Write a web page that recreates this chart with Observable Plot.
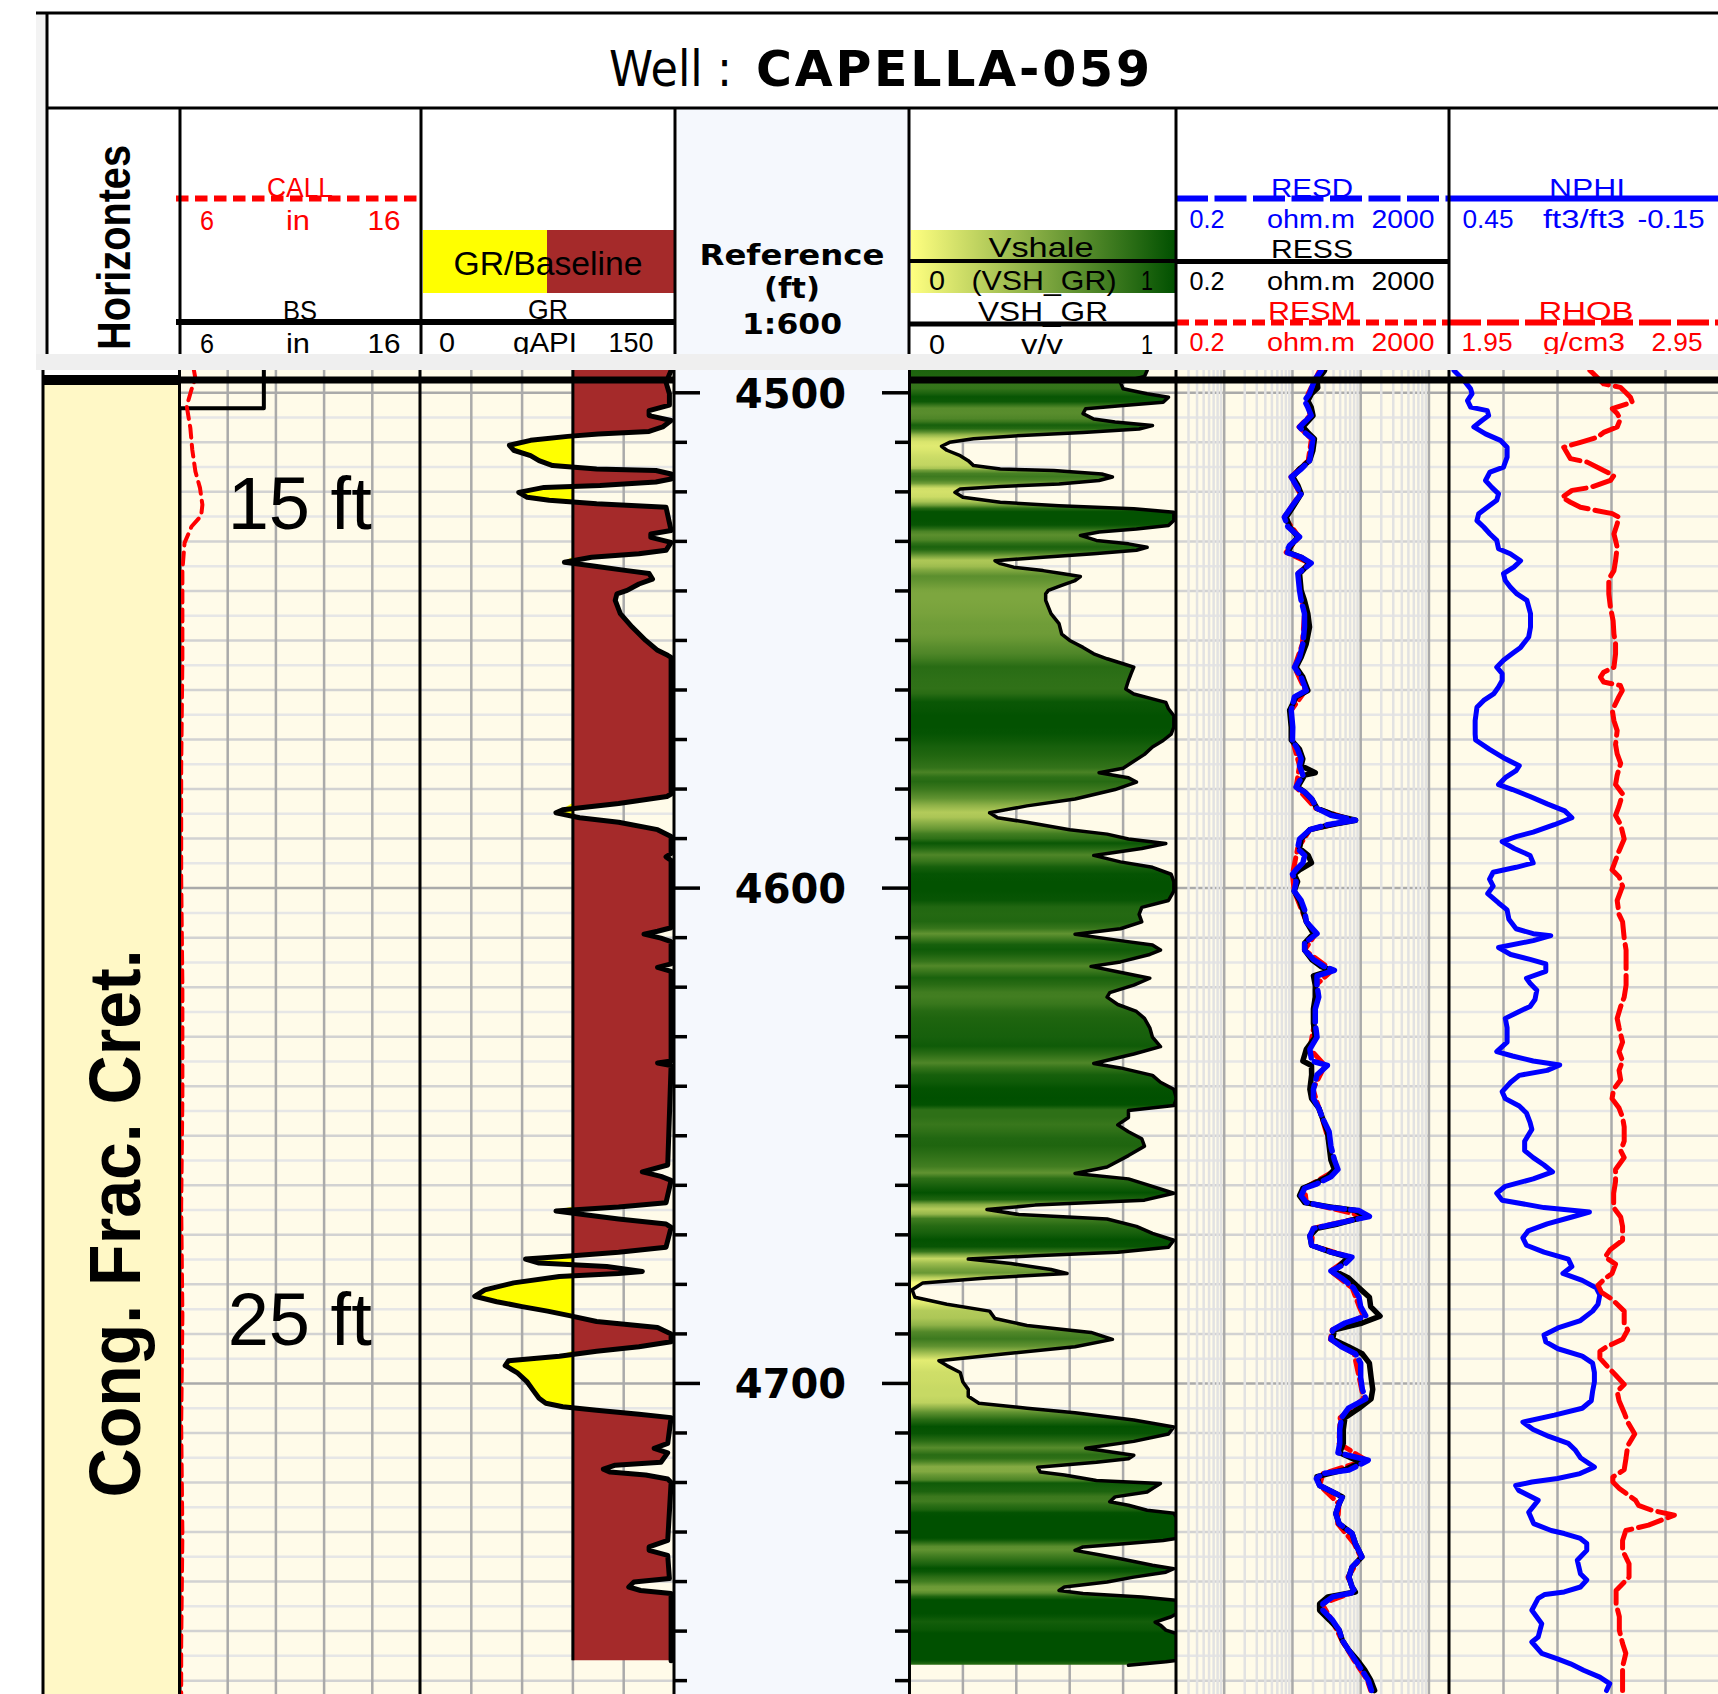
<!DOCTYPE html>
<html>
<head>
<meta charset="utf-8">
<script src="https://cdn.jsdelivr.net/npm/d3@7"></script>
<script src="https://cdn.jsdelivr.net/npm/@observablehq/plot@0.6"></script>
<style>
html, body { margin:0; padding:0; background:#fff; overflow:hidden; }
#root { position:relative; width:1718px; height:1694px; overflow:hidden; background:#fff; }
</style>
</head>
<body>
<div id="root"></div>
<script>
// ---------------- DATA ----------------
const WELL = "CAPELLA-059";
const DEPTH_TOP = 4495.5, DEPTH_BOTTOM = 4762.8;
const DEPTH_LABELS = [4500, 4600, 4700];
const FORMATIONS = [{name: "Cong. Frac. Cret.", top: 4497.4, base: 4838}];
const CALL_NOTES = [{depth: 4527.4, label: "15 ft"}, {depth: 4692.2, label: "25 ft"}];
const GR_BASELINE = 90;

const CALL = [[4495.5,6.60],[4497.1,6.66],[4499.3,6.50],[4502.7,6.30],[4507.1,6.45],[4511.5,6.53],[4515.9,6.66],[4519.2,6.85],[4522.6,6.95],[4524.8,6.90],[4527.0,6.50],[4530.3,6.21],[4535.8,6.12],[4553.5,6.12],[4575.7,6.07],[4597.8,6.07],[4619.9,6.12],[4642.0,6.12],[4664.2,6.07],[4686.3,6.12],[4708.4,6.07],[4730.5,6.12],[4752.7,6.07],[4762.8,6.07]];
const BS = [[4495.5,9.5],[4503.1,9.5],[4503.1,6.0],[4762.8,6.0]];

const GR = [[4495.5,148],[4497.9,145],[4500.2,147],[4502.5,147],[4503.6,135],[4504.6,135],[4505.6,148],[4506.9,143],[4507.8,135],[4508.3,105],[4508.8,87],[4509.6,65],[4510.6,52.5],[4511.6,55],[4512.7,65],[4513.7,70],[4514.7,78],[4515.4,104],[4515.7,139],[4516.4,148],[4517.4,148],[4518.0,139],[4518.7,106],[4519.1,73],[4520.1,58],[4521.1,63],[4521.7,76],[4522.4,104],[4523.1,145],[4527.8,148],[4528.5,136],[4529.2,136],[4530.2,148],[4531.8,145],[4532.5,129],[4533.2,101],[4534.2,85],[4534.9,101],[4535.9,122],[4536.5,135],[4537.6,137],[4538.6,129],[4539.9,122],[4540.6,116],[4541.9,115],[4544.6,118],[4547.3,125],[4550.0,133],[4552.0,140],[4553.0,146],[4553.4,148],[4581.0,148],[4581.5,145.5],[4582.9,117],[4584.2,84],[4584.8,80],[4585.8,94],[4586.7,117],[4588.2,140],[4589.6,148],[4593.0,148],[4593.7,145],[4594.4,148],[4608.0,148],[4608.7,140],[4609.3,132],[4610.1,142],[4610.8,148],[4615.3,148],[4616.0,140],[4616.8,148],[4634.9,148],[4635.3,140],[4635.8,148],[4655.9,146],[4657.3,131],[4658.2,142],[4659.0,148],[4663.5,145],[4664.4,117],[4665.2,80],[4665.9,96],[4666.8,117],[4667.8,145],[4668.5,148],[4672.5,145],[4673.5,117],[4674.2,90],[4674.9,62],[4675.7,70],[4676.4,110],[4677.4,131],[4677.8,117],[4678.4,82],[4679.7,55],[4681.1,38],[4682.4,32],[4683.5,45],[4684.5,60],[4685.4,75],[4686.3,88],[4687.5,104],[4688.7,140],[4690.0,148],[4691.6,148],[4692.6,129],[4693.5,104],[4694.5,82],[4695.4,52],[4696.4,50],[4697.8,57],[4699.7,63],[4701.6,67],[4703.0,70],[4704.0,74],[4704.7,84],[4705.4,104],[4706.2,129],[4706.9,148],[4712.1,146],[4713.1,138],[4714.0,146],[4715.9,142],[4716.5,115],[4717.3,108],[4717.9,112],[4718.5,133],[4719.3,146],[4720.0,148],[4731.7,146],[4733.0,135],[4733.7,135],[4734.7,146],[4739.4,147],[4740.1,126],[4741.1,123],[4741.8,130],[4742.4,148],[4756.0,148]];

const VSH = [[4495.5,0.89],[4496.7,0.88],[4497.9,0.79],[4499.2,0.80],[4500.2,0.89],[4500.9,0.97],[4501.9,0.95],[4502.6,0.79],[4503.2,0.66],[4504.2,0.65],[4505.3,0.69],[4505.9,0.77],[4506.6,0.91],[4507.3,0.86],[4508.0,0.65],[4508.6,0.42],[4509.3,0.24],[4510.0,0.15],[4510.8,0.12],[4511.6,0.14],[4512.7,0.19],[4513.7,0.22],[4514.7,0.24],[4515.4,0.34],[4515.7,0.54],[4516.4,0.72],[4517.0,0.76],[4517.7,0.71],[4518.4,0.56],[4518.9,0.34],[4519.4,0.19],[4520.1,0.17],[4521.1,0.20],[4522.1,0.34],[4522.8,0.56],[4523.4,0.84],[4524.1,0.99],[4525.8,0.99],[4526.8,0.97],[4527.5,0.85],[4528.1,0.71],[4528.8,0.64],[4529.8,0.70],[4530.5,0.82],[4531.2,0.89],[4531.8,0.85],[4532.5,0.69],[4533.2,0.50],[4533.9,0.32],[4534.5,0.34],[4535.2,0.39],[4535.9,0.50],[4536.5,0.57],[4537.1,0.64],[4537.9,0.62],[4538.9,0.57],[4539.9,0.52],[4540.6,0.51],[4541.9,0.51],[4544.6,0.53],[4546.6,0.56],[4548.7,0.57],[4550.0,0.60],[4551.4,0.65],[4552.7,0.69],[4553.7,0.74],[4554.7,0.80],[4555.4,0.84],[4556.7,0.83],[4558.1,0.82],[4559.8,0.81],[4560.8,0.84],[4561.8,0.91],[4562.5,0.96],[4563.8,0.97],[4565.2,0.99],[4567.5,0.99],[4568.9,0.98],[4570.2,0.95],[4571.5,0.91],[4573.0,0.88],[4574.4,0.84],[4575.8,0.80],[4576.7,0.71],[4577.7,0.82],[4578.6,0.85],[4580.1,0.77],[4582.0,0.62],[4583.4,0.44],[4584.8,0.30],[4585.8,0.33],[4586.7,0.44],[4588.2,0.60],[4589.1,0.74],[4590.1,0.82],[4591.0,0.96],[4592.0,0.87],[4593.4,0.69],[4594.7,0.79],[4595.8,0.91],[4597.2,0.98],[4598.7,0.99],[4600.6,0.99],[4602.5,0.97],[4603.9,0.87],[4605.3,0.86],[4606.8,0.87],[4608.2,0.79],[4609.3,0.62],[4610.6,0.79],[4611.5,0.91],[4612.5,0.94],[4613.4,0.90],[4614.9,0.79],[4615.8,0.68],[4616.8,0.77],[4618.2,0.90],[4619.6,0.84],[4621.1,0.75],[4622.0,0.74],[4623.5,0.78],[4624.9,0.85],[4626.3,0.88],[4628.2,0.90],[4630.1,0.91],[4632.0,0.94],[4633.5,0.84],[4635.4,0.69],[4636.3,0.79],[4637.8,0.91],[4639.2,0.94],[4640.6,0.99],[4642.5,1.0],[4643.9,0.99],[4644.9,0.82],[4646.3,0.82],[4647.8,0.78],[4649.2,0.82],[4650.6,0.87],[4652.1,0.88],[4654.0,0.82],[4656.3,0.74],[4657.6,0.62],[4658.7,0.82],[4660.2,0.91],[4661.6,0.99],[4663.0,0.88],[4664.0,0.47],[4664.9,0.29],[4665.9,0.41],[4666.8,0.74],[4668.3,0.85],[4669.7,0.91],[4671.1,0.99],[4672.5,0.97],[4673.5,0.78],[4674.2,0.47],[4674.9,0.22],[4675.8,0.38],[4677.0,0.53],[4677.8,0.59],[4678.7,0.29],[4679.7,0.05],[4681.1,0.01],[4682.6,0.02],[4684.0,0.14],[4685.4,0.30],[4686.9,0.32],[4688.3,0.44],[4689.7,0.68],[4691.1,0.76],[4692.6,0.62],[4694.0,0.36],[4695.4,0.11],[4696.4,0.14],[4697.8,0.19],[4699.7,0.20],[4701.2,0.22],[4702.6,0.22],[4704.0,0.26],[4705.0,0.44],[4705.9,0.62],[4707.4,0.84],[4708.8,0.99],[4710.2,0.97],[4711.7,0.84],[4713.1,0.66],[4714.5,0.84],[4715.2,0.82],[4715.9,0.70],[4716.9,0.48],[4717.9,0.49],[4718.5,0.58],[4719.6,0.70],[4720.2,0.94],[4721.2,0.91],[4721.9,0.89],[4722.9,0.77],[4723.9,0.75],[4724.6,0.82],[4725.6,0.89],[4726.2,0.99],[4727.0,1.0],[4731.3,1.0],[4731.7,0.95],[4732.5,0.77],[4733.0,0.65],[4733.7,0.62],[4734.7,0.72],[4735.4,0.79],[4736.7,0.91],[4737.4,0.99],[4738.1,0.96],[4739.1,0.84],[4740.1,0.74],[4741.1,0.58],[4741.8,0.56],[4742.4,0.65],[4743.1,0.87],[4743.8,1.0],[4746.5,1.0],[4747.1,0.98],[4748.2,0.92],[4748.8,0.94],[4749.8,0.96],[4750.5,1.0],[4755.9,1.0],[4756.2,0.96],[4756.9,0.82]];

const RESD = [[4495.5,26.4],[4497.5,21.0],[4500.2,17.8],[4501.6,15.0],[4502.9,16.8],[4504.6,18.8],[4506.9,12.7],[4508.0,15.0],[4509.3,19.9],[4511.7,18.8],[4513.7,17.8],[4515.4,13.4],[4517.0,9.6],[4518.7,11.3],[4520.4,13.4],[4523.1,9.6],[4525.1,7.6],[4527.1,8.6],[4529.1,12.7],[4530.8,9.1],[4532.2,8.1],[4533.2,13.4],[4534.4,18.8],[4536.5,12.0],[4539.9,12.7],[4541.9,13.4],[4544.6,15.0],[4547.3,15.0],[4550.7,14.2],[4553.4,12.7],[4555.4,10.7],[4557.4,13.4],[4560.1,15.9],[4561.4,10.7],[4564.1,9.6],[4567.5,10.1],[4570.1,10.0],[4572.0,11.9],[4573.9,13.4],[4575.3,12.7],[4577.2,14.2],[4579.6,11.3],[4580.6,15.1],[4582.0,19.1],[4583.9,22.9],[4585.3,36.6],[4586.3,84],[4587.2,32.5],[4588.2,18.0],[4590.1,12.7],[4592.0,11.9],[4593.4,15.1],[4594.9,14.2],[4596.3,11.3],[4597.2,10.0],[4598.7,11.3],[4600.6,10.6],[4602.5,13.4],[4604.4,15.1],[4606.8,16.0],[4609.2,22.9],[4611.1,15.1],[4612.5,15.1],[4614.4,20.3],[4615.8,29.0],[4616.6,41.2],[4617.7,22.9],[4619.6,22.9],[4622.0,24.3],[4624.4,21.6],[4627.3,21.6],[4630.1,22.9],[4632.5,18.0],[4634.9,19.1],[4635.8,32.5],[4637.7,22.9],[4640.6,20.3],[4642.5,20.3],[4644.4,24.3],[4646.3,27.3],[4649.2,34.5],[4652.1,36.6],[4654.9,41.2],[4656.8,46.4],[4658.3,36.6],[4659.7,22.9],[4660.6,15.1],[4662.1,13.4],[4663.5,16.0],[4664.5,36.6],[4665.1,94.3],[4666.3,134],[4667.8,41.2],[4668.7,20.3],[4670.2,18.0],[4672.1,19.1],[4673.5,36.6],[4674.5,74.4],[4675.9,58.8],[4677.3,36.6],[4678.7,52.3],[4680.7,78.6],[4682.6,94.3],[4684.5,99.9],[4686.4,119],[4687.8,58.8],[4689.2,38.8],[4691.1,36.6],[4692.6,52.3],[4694.0,83.7],[4695.9,99.9],[4698.8,99.9],[4701.2,105.8],[4703.1,118.8],[4705.0,66.2],[4706.9,52.3],[4709.3,49.3],[4712.1,49.3],[4714.0,46.4],[4715.5,129],[4716.5,94],[4717.5,67.1],[4718.2,27.9],[4719.2,22.4],[4720.6,25.0],[4721.9,38.7],[4722.9,53.9],[4724.3,48.2],[4726.3,43.2],[4728.3,48.2],[4730.3,74.8],[4732.3,83.4],[4735.0,104],[4737.1,74.8],[4739.1,67.1],[4741.1,74.8],[4742.1,83.4],[4743.1,38.7],[4744.5,27.9],[4745.8,27.9],[4747.8,38.7],[4749.8,48.2],[4751.9,53.9],[4753.9,67.1],[4755.9,83.4],[4757.9,104],[4759.9,129],[4762.0,144]];

const RESS = [[4495.5,29.5],[4497.5,23.0],[4499.0,23.5],[4500.2,19.0],[4501.6,16.8],[4502.9,18.8],[4504.6,20.0],[4506.9,14.2],[4508.0,16.8],[4509.3,21.0],[4511.7,19.9],[4513.7,17.8],[4515.4,12.7],[4517.0,10.1],[4518.7,12.0],[4520.4,13.4],[4523.1,10.1],[4525.1,8.1],[4527.1,9.1],[4529.1,12.0],[4530.8,9.6],[4532.2,8.6],[4533.2,13.4],[4534.4,17.8],[4536.5,12.7],[4539.9,13.4],[4541.9,15.0],[4544.6,16.8],[4547.3,17.8],[4550.7,15.9],[4553.4,13.4],[4555.4,11.3],[4557.4,14.2],[4560.1,16.8],[4561.4,11.3],[4564.1,9.1],[4567.5,9.6],[4570.1,9.6],[4572.0,12.7],[4573.9,14.2],[4575.3,13.4],[4576.7,21.6],[4577.2,15.1],[4579.6,11.9],[4580.6,15.1],[4582.0,19.1],[4583.9,22.9],[4585.3,42],[4586.3,84],[4587.2,36.6],[4588.2,18.0],[4590.1,13.4],[4592.0,12.7],[4593.4,17.0],[4594.9,19.0],[4596.3,12.7],[4597.2,10.6],[4598.7,11.9],[4600.6,10.6],[4602.5,12.7],[4604.4,14.2],[4606.8,16.0],[4609.2,20.3],[4611.1,15.1],[4612.5,15.1],[4614.4,19.1],[4615.8,26.0],[4616.6,36.6],[4617.7,20.3],[4619.6,21.6],[4622.0,21.6],[4624.4,20.3],[4627.3,20.3],[4630.1,21.6],[4632.5,16.0],[4634.9,14.2],[4635.8,19.0],[4637.7,19.1],[4640.6,18.0],[4642.5,19.1],[4644.4,24.3],[4646.3,27.3],[4649.2,32.5],[4652.1,34.5],[4654.9,36.6],[4656.8,41.2],[4658.3,32.5],[4659.7,20.3],[4660.6,14.2],[4662.1,12.7],[4663.5,15.1],[4664.5,41.2],[4665.1,84],[4666.3,118],[4667.8,46.4],[4668.7,22.9],[4670.2,18.0],[4672.1,19.1],[4673.5,36.6],[4674.5,66],[4675.9,52.3],[4677.3,41.2],[4678.7,66.2],[4680.7,94.3],[4682.6,134],[4684.5,140],[4686.4,192],[4687.8,105],[4689.2,41.2],[4691.1,38.8],[4692.6,66.2],[4694.0,105],[4695.9,134],[4698.8,142],[4701.2,150],[4703.1,142],[4705.0,94.3],[4706.9,58.8],[4709.3,55.5],[4712.1,55.5],[4714.0,49.3],[4715.9,99.9],[4717.4,58.8],[4718.8,22.9],[4720.6,25.0],[4721.9,38.7],[4722.9,53.9],[4724.3,48.2],[4726.3,43.2],[4728.3,48.2],[4730.3,74.8],[4732.3,83.4],[4735.0,104],[4737.1,74.8],[4739.1,67.1],[4741.1,74.8],[4742.1,83.4],[4743.1,33.0],[4744.5,25.0],[4745.8,25.0],[4747.8,35.0],[4749.8,48.2],[4751.9,53.9],[4753.9,67.1],[4755.9,90],[4757.9,115],[4759.9,140],[4762.0,160]];

const RESM = [[4495.5,25],[4500.2,17],[4504.6,18],[4506.9,12.5],[4509.3,19],[4513.7,17],[4517.0,9.5],[4520.4,13],[4525.1,7.6],[4529.1,12.5],[4532.2,8.1],[4534.4,18],[4536.5,12],[4544.6,15],[4550.7,14],[4555.4,10.7],[4560.1,15.5],[4564.1,9.6],[4570.1,10],[4575.3,12.7],[4579.6,11.3],[4583.9,22],[4586.3,75],[4588.2,18],[4592.0,11.9],[4597.2,10],[4600.6,10.6],[4606.8,16],[4609.2,22],[4612.5,15],[4616.6,38],[4619.6,22],[4627.3,21],[4632.5,18],[4635.8,30],[4640.6,20],[4646.3,27],[4652.1,36],[4656.8,45],[4660.6,15],[4663.5,16],[4666.3,120],[4668.7,20],[4672.1,19],[4674.5,70],[4677.3,36],[4680.7,75],[4684.5,95],[4686.4,110],[4689.2,38],[4691.1,36],[4694.0,80],[4698.8,95],[4703.1,110],[4706.9,50],[4712.1,48],[4715.5,120],[4718.2,28],[4720.6,25],[4724.3,48],[4728.3,46],[4732.3,80],[4735.0,100],[4739.1,65],[4742.1,80],[4744.5,27],[4747.8,38],[4751.9,53],[4755.9,80],[4759.9,125],[4762.0,140]];

const NPHI = [[4495.5,0.440],[4497.5,0.418],[4499.2,0.403],[4500.2,0.400],[4501.6,0.410],[4502.9,0.403],[4503.6,0.366],[4504.6,0.363],[4505.6,0.378],[4506.9,0.396],[4508.3,0.370],[4509.6,0.337],[4511.0,0.322],[4513.0,0.322],[4515.0,0.330],[4516.0,0.360],[4517.7,0.370],[4519.1,0.356],[4520.4,0.341],[4521.7,0.345],[4523.1,0.366],[4524.4,0.385],[4525.8,0.389],[4527.1,0.374],[4528.5,0.360],[4529.8,0.345],[4531.5,0.341],[4532.5,0.315],[4533.9,0.292],[4535.2,0.307],[4536.5,0.330],[4537.9,0.326],[4539.2,0.315],[4540.6,0.300],[4541.9,0.278],[4544.6,0.270],[4547.3,0.270],[4549.3,0.274],[4551.4,0.292],[4552.7,0.311],[4554.0,0.330],[4555.4,0.345],[4556.7,0.333],[4558.1,0.333],[4559.4,0.341],[4560.8,0.352],[4562.1,0.374],[4563.5,0.389],[4566.2,0.393],[4568.9,0.393],[4570.1,0.392],[4572.0,0.361],[4573.9,0.326],[4575.3,0.295],[4576.3,0.302],[4577.7,0.326],[4579.1,0.341],[4580.1,0.310],[4581.5,0.271],[4583.0,0.233],[4584.4,0.194],[4585.8,0.178],[4587.2,0.217],[4588.7,0.264],[4589.6,0.302],[4590.6,0.333],[4592.0,0.306],[4593.4,0.271],[4594.9,0.264],[4595.8,0.302],[4596.8,0.353],[4598.2,0.361],[4599.6,0.353],[4601.1,0.365],[4603.0,0.341],[4604.4,0.322],[4606.3,0.318],[4608.2,0.302],[4609.2,0.264],[4609.6,0.225],[4610.6,0.264],[4612.0,0.341],[4613.4,0.314],[4614.4,0.271],[4615.3,0.236],[4616.8,0.236],[4618.2,0.279],[4619.2,0.271],[4620.6,0.256],[4622.5,0.260],[4623.9,0.271],[4624.9,0.295],[4626.3,0.326],[4628.2,0.322],[4631.1,0.322],[4633.0,0.345],[4633.9,0.310],[4634.9,0.264],[4635.7,0.205],[4636.8,0.233],[4637.8,0.295],[4639.2,0.314],[4641.1,0.333],[4642.5,0.326],[4644.0,0.295],[4645.4,0.279],[4647.3,0.271],[4648.7,0.267],[4651.1,0.283],[4653.0,0.283],[4654.4,0.264],[4655.9,0.240],[4657.3,0.221],[4658.7,0.264],[4660.2,0.326],[4661.6,0.345],[4663.0,0.333],[4664.5,0.240],[4665.4,0.139],[4666.4,0.178],[4667.8,0.233],[4669.2,0.275],[4670.6,0.287],[4672.1,0.279],[4673.5,0.240],[4674.9,0.186],[4676.4,0.178],[4677.8,0.198],[4679.2,0.155],[4680.7,0.124],[4682.1,0.116],[4684.0,0.120],[4685.4,0.132],[4687.3,0.159],[4688.8,0.209],[4690.2,0.240],[4691.6,0.236],[4693.0,0.209],[4694.5,0.155],[4695.9,0.132],[4697.8,0.128],[4699.7,0.128],[4701.6,0.132],[4703.5,0.135],[4705.0,0.155],[4706.4,0.217],[4707.8,0.287],[4709.3,0.264],[4710.7,0.229],[4712.1,0.186],[4713.5,0.170],[4715.0,0.159],[4716.9,0.128],[4718.2,0.160],[4719.2,0.210],[4719.9,0.267],[4720.6,0.303],[4721.6,0.296],[4723.6,0.253],[4726.0,0.274],[4728.3,0.263],[4729.7,0.224],[4730.3,0.195],[4731.3,0.159],[4732.3,0.145],[4733.7,0.145],[4735.7,0.166],[4738.4,0.159],[4739.7,0.145],[4741.1,0.159],[4742.1,0.195],[4742.6,0.238],[4743.4,0.253],[4745.8,0.267],[4748.5,0.245],[4751.2,0.253],[4752.2,0.267],[4754.5,0.245],[4755.6,0.210],[4756.6,0.181],[4757.9,0.152],[4759.3,0.116],[4760.6,0.094],[4762.0,0.101]];

const RHOB = [[4495.5,2.470],[4496.2,2.484],[4498.2,2.521],[4498.9,2.583],[4499.9,2.602],[4500.9,2.620],[4501.9,2.627],[4503.2,2.553],[4504.2,2.571],[4505.3,2.583],[4506.9,2.571],[4508.0,2.521],[4509.0,2.497],[4510.0,2.435],[4511.0,2.373],[4513.3,2.398],[4514.0,2.460],[4515.7,2.521],[4516.7,2.559],[4517.7,2.546],[4519.1,2.472],[4519.7,2.404],[4521.1,2.367],[4522.1,2.398],[4523.1,2.435],[4523.8,2.497],[4524.4,2.553],[4525.1,2.577],[4526.5,2.571],[4528.5,2.559],[4529.8,2.565],[4531.2,2.571],[4533.9,2.565],[4535.9,2.559],[4537.6,2.540],[4540.6,2.540],[4543.3,2.546],[4546.0,2.556],[4548.7,2.559],[4550.7,2.565],[4552.7,2.565],[4555.4,2.559],[4556.4,2.521],[4557.4,2.509],[4558.4,2.521],[4559.1,2.583],[4560.1,2.590],[4561.4,2.577],[4564.1,2.553],[4566.2,2.559],[4568.2,2.571],[4571.0,2.565],[4572.9,2.571],[4574.8,2.584],[4577.2,2.571],[4579.1,2.565],[4581.0,2.591],[4583.4,2.578],[4585.3,2.565],[4587.2,2.584],[4590.1,2.597],[4592.5,2.578],[4594.4,2.565],[4596.3,2.552],[4597.7,2.578],[4599.6,2.591],[4602.5,2.571],[4605.3,2.578],[4606.8,2.591],[4610.1,2.597],[4612.5,2.604],[4614.9,2.604],[4616.8,2.604],[4619.6,2.604],[4622.0,2.597],[4623.9,2.584],[4626.3,2.571],[4628.2,2.578],[4631.1,2.591],[4633.0,2.578],[4634.9,2.591],[4636.8,2.578],[4638.7,2.584],[4640.6,2.558],[4642.5,2.552],[4644.4,2.578],[4646.3,2.591],[4648.2,2.597],[4651.1,2.597],[4653.0,2.584],[4654.4,2.597],[4656.8,2.565],[4659.2,2.565],[4661.6,2.558],[4664.5,2.558],[4666.4,2.584],[4668.3,2.591],[4671.1,2.591],[4673.0,2.545],[4674.5,2.526],[4675.9,2.565],[4677.8,2.552],[4678.8,2.526],[4680.2,2.500],[4681.6,2.513],[4683.0,2.552],[4685.4,2.597],[4687.8,2.597],[4689.2,2.610],[4691.1,2.591],[4692.6,2.532],[4693.5,2.507],[4694.9,2.507],[4696.4,2.532],[4698.3,2.565],[4700.2,2.597],[4701.6,2.571],[4703.5,2.578],[4705.9,2.597],[4707.8,2.610],[4710.2,2.636],[4712.6,2.610],[4715.0,2.604],[4717.4,2.597],[4718.9,2.555],[4719.9,2.555],[4721.2,2.579],[4723.6,2.639],[4724.6,2.650],[4725.6,2.699],[4726.6,2.783],[4727.6,2.735],[4728.6,2.687],[4729.7,2.603],[4731.7,2.591],[4733.7,2.591],[4736.4,2.615],[4739.1,2.615],[4741.8,2.567],[4744.5,2.567],[4747.1,2.579],[4749.8,2.579],[4752.5,2.591],[4754.5,2.603],[4757.2,2.591],[4759.9,2.591],[4762.0,2.591]];

// scales & tick labels
const CALL_SCALE = [6, 16], GR_SCALE = [0, 150], VSH_SCALE = [0, 1], RES_SCALE = [0.2, 2000], NPHI_SCALE = [0.45, -0.15], RHOB_SCALE = [1.95, 2.95];
const CALL_GRID = [8, 10, 12, 14], GR_GRID = [30, 60, 90, 120], VSH_GRID = [0.2, 0.4, 0.6, 0.8], NPHI_GRID = [0.33, 0.21, 0.09, -0.03];
const RES_MAJOR = [1, 10, 100, 1000];
const RES_MINOR = [0.3,0.4,0.5,0.6,0.7,0.8,0.9,2,3,4,5,6,7,8,9,20,30,40,50,60,70,80,90,200,300,400,500,600,700,800,900];
const VSH_COLORS = ["#ffff80", "#005000"];
const CALL_LABELS = ["6", "in", "16"], GR_LABELS = ["0", "gAPI", "150"], VSH_LABELS = ["0", "v/v", "1"], VSH_FILL_LABELS = ["0", "(VSH_GR)", "1"];
const RES_LABELS = ["0.2", "ohm.m", "2000"], NPHI_LABELS = ["0.45", "ft3/ft3", "-0.15"], RHOB_LABELS = ["1.95", "g/cm3", "2.95"];

// ---------------- LAYOUT ----------------
const root = document.getElementById("root");
const TOP = 370, H = 1694 - TOP;
const SANS = "'Liberation Sans', Arial, sans-serif";
const yOpt = {domain: [DEPTH_TOP, DEPTH_BOTTOM], range: [0, H], axis: null};
const grid5 = d3.range(4500, 4765, 5).filter(d => d % 10 !== 0);
const grid10 = d3.range(4500, 4765, 10).filter(d => d % 100 !== 0);
const grid100 = d3.range(4500, 4765, 100);
const depthTicks = d3.range(4500, 4765, 10);
const dy = d => d[0], vx = d => d[1];

function hGrid() {
  return [
    Plot.ruleY(grid5, {stroke: "#e6e6e6", strokeWidth: 2.5}),
    Plot.ruleY(grid10, {stroke: "#d2d2d2", strokeWidth: 2.5}),
    Plot.ruleY(grid100, {stroke: "#aaaaaa", strokeWidth: 2.5})
  ];
}
const topRule = (w) => Plot.ruleY(FORMATIONS, {y: "top", stroke: "black", strokeWidth: w});
function track(left, width, x, bg, marks) {
  const p = Plot.plot({width, height: H, margin: 0, x: {...x, axis: null}, y: yOpt, style: {background: bg}, marks});
  p.style.position = "absolute"; p.style.left = left + "px"; p.style.top = TOP + "px";
  p.style.maxWidth = "none"; p.style.overflow = "hidden";
  root.appendChild(p);
  return p;
}
const CREAM = "#fffbe9";

// Horizontes
const hz = track(43, 136, {domain: [0, 1]}, "#ffffff", [
  Plot.rect(FORMATIONS, {x1: 0, x2: 1, y1: "top", y2: "base", fill: "#fff8c6", clip: true}),
  Plot.text(FORMATIONS, {x: 0.54, y: d => (d.top + d.base) / 2, text: "name", rotate: -90, fontSize: 72, fontWeight: "bold", fontFamily: SANS, fill: "black"}),
  topRule(10)
]);
d3.select(hz).selectAll("text").attr("textLength", 548).attr("lengthAdjust", "spacingAndGlyphs");

// CALL / BS
track(179, 241, {domain: CALL_SCALE}, CREAM, [
  ...hGrid(),
  Plot.ruleX(CALL_GRID, {stroke: "#aaaaaa", strokeWidth: 2.5}),
  Plot.text(CALL_NOTES, {x: 8, y: "depth", text: "label", fontSize: 74, fontFamily: SANS, textAnchor: "start", lineAnchor: "bottom", fill: "black"}),
  Plot.lineX(BS, {x: vx, y: dy, stroke: "black", strokeWidth: 4, clip: true}),
  Plot.lineX(CALL, {x: vx, y: dy, stroke: "#ff0000", strokeWidth: 4, strokeDasharray: "12,7", clip: true}),
  topRule(7)
]);

// GR
const grFirst = GR[0][0], grLast = GR[GR.length - 1][0];
track(420, 254, {domain: GR_SCALE}, CREAM, [
  ...hGrid(),
  Plot.ruleX(GR_GRID, {stroke: "#aaaaaa", strokeWidth: 2.5}),
  Plot.areaX(GR, {y: dy, x1: GR_BASELINE, x2: d => Math.min(Math.max(d[1], GR_BASELINE), 150), fill: "#a52a2a"}),
  Plot.areaX(GR, {y: dy, x1: d => Math.min(d[1], GR_BASELINE), x2: GR_BASELINE, fill: "#ffff00"}),
  Plot.ruleX([GR_BASELINE], {y1: grFirst, y2: grLast, stroke: "black", strokeWidth: 3}),
  Plot.lineX(GR, {x: vx, y: dy, stroke: "black", strokeWidth: 5, clip: true}),
  topRule(7)
]);

// Depth
track(674, 235, {domain: [0, 235], range: [0, 235]}, "#f5f8fd", [
  Plot.ruleY(depthTicks, {x1: 0, x2: d => d % 100 === 0 ? 26 : 13, stroke: "black", strokeWidth: 3.5}),
  Plot.ruleY(depthTicks, {x1: d => d % 100 === 0 ? 208 : 221, x2: 235, stroke: "black", strokeWidth: 3.5}),
  Plot.text(DEPTH_LABELS, {x: 116, y: d => d, text: d => String(d), fontSize: 40, fontWeight: "bold", fontFamily: "'DejaVu Sans', Verdana, sans-serif", fill: "black", dy: 2})
]);

// Vshale
const vshColor = d3.interpolateRgb(VSH_COLORS[0], VSH_COLORS[1]);
const vsp = track(909, 267, {domain: VSH_SCALE}, CREAM, [
  ...hGrid(),
  Plot.ruleX(VSH_GRID, {stroke: "#aaaaaa", strokeWidth: 2.5}),
  Plot.areaX(VSH, {y: dy, x1: 0, x2: vx, fill: "url(#vshGrad)"}),
  Plot.lineX(VSH, {x: vx, y: dy, stroke: "black", strokeWidth: 3.5, clip: true}),
  topRule(7)
]);
{
  const ys = vsp.scale("y");
  const grad = d3.select(vsp).insert("defs", ":first-child").append("linearGradient")
    .attr("id", "vshGrad").attr("gradientUnits", "userSpaceOnUse")
    .attr("x1", 0).attr("x2", 0).attr("y1", 0).attr("y2", H);
  VSH.forEach(([d, v]) => grad.append("stop").attr("offset", ys.apply(d) / H).attr("stop-color", vshColor(v)));
}

// Resistivity
track(1176, 273, {type: "log", domain: RES_SCALE}, CREAM, [
  ...hGrid(),
  Plot.ruleX(RES_MINOR, {stroke: "#e2e2e2", strokeWidth: 2.5}),
  Plot.ruleX(RES_MAJOR, {stroke: "#aaaaaa", strokeWidth: 2.5}),
  Plot.lineX(RESM, {x: vx, y: dy, stroke: "#ff0000", strokeWidth: 5, strokeDasharray: "13,6", clip: true}),
  Plot.lineX(RESS, {x: vx, y: dy, stroke: "black", strokeWidth: 5.5, clip: true}),
  Plot.lineX(RESD, {x: vx, y: dy, stroke: "#0000ff", strokeWidth: 5.5, strokeDasharray: "32,6", clip: true}),
  topRule(7)
]);

// Neutron / Density
track(1449, 270, {domain: NPHI_SCALE}, CREAM, [
  ...hGrid(),
  Plot.ruleX(NPHI_GRID, {stroke: "#aaaaaa", strokeWidth: 2.5}),
  Plot.lineX(NPHI, {x: vx, y: dy, stroke: "#0000ff", strokeWidth: 5, clip: true})
]);
track(1449, 270, {domain: RHOB_SCALE}, "transparent", [
  Plot.lineX(RHOB, {x: vx, y: dy, stroke: "#ff0000", strokeWidth: 5, strokeDasharray: "24,7", clip: true}),
  topRule(7)
]);

// Track borders (data area)
const brd = d3.select(root).append("svg").attr("width", 1718).attr("height", H)
  .style("position", "absolute").style("left", "0px").style("top", TOP + "px");
[43, 179.5, 420, 674, 909.5, 1176, 1449].forEach(x =>
  brd.append("line").attr("x1", x).attr("x2", x).attr("y1", 0).attr("y2", H).attr("stroke", "black").attr("stroke-width", 3));

// ---------------- HEADER ----------------
const hdr = d3.select(root).append("svg").attr("width", 1718).attr("height", TOP)
  .style("position", "absolute").style("left", "0px").style("top", "0px");
const defs = hdr.append("defs");
const hg = defs.append("linearGradient").attr("id", "vshHdr").attr("x1", 0).attr("x2", 1).attr("y1", 0).attr("y2", 0);
hg.append("stop").attr("offset", 0).attr("stop-color", VSH_COLORS[0]);
hg.append("stop").attr("offset", 1).attr("stop-color", VSH_COLORS[1]);
defs.append("clipPath").attr("id", "hclip").append("rect").attr("x", 0).attr("y", 0).attr("width", 1718).attr("height", 354);
const g = hdr.append("g").attr("clip-path", "url(#hclip)");

function T(s, x, y, o = {}) {
  const t = g.append("text").attr("x", x).attr("y", y).text(s)
    .attr("font-family", o.family || SANS).attr("font-size", o.size || 30)
    .attr("font-weight", o.weight || "normal").attr("fill", o.fill || "#000")
    .attr("text-anchor", o.anchor || "middle");
  if (o.len) t.attr("textLength", o.len).attr("lengthAdjust", o.adjust || "spacingAndGlyphs");
  if (o.transform) t.attr("transform", o.transform);
  return t;
}
function L(x1, y1, x2, y2, stroke, w, dash) {
  const l = g.append("line").attr("x1", x1).attr("y1", y1).attr("x2", x2).attr("y2", y2).attr("stroke", stroke).attr("stroke-width", w);
  if (dash) l.attr("stroke-dasharray", dash);
  return l;
}
function R(x, y, w, h, fill) { return g.append("rect").attr("x", x).attr("y", y).attr("width", w).attr("height", h).attr("fill", fill); }
const RED = "#ff0000", BLUE = "#0000ff";
function scaleRow(labels, xs, y, fill, size, lens) {
  labels.forEach((s, i) => T(s, xs[i], y, {fill, size, len: lens ? lens[i] : null}));
}

// backgrounds
R(36, 13, 11, 341, "#f3f3f3");
R(677, 109, 231, 245, "#f5f8fd");

// Title
const DJV = "'DejaVu Sans', Verdana, sans-serif";
T("Well :", 609, 86, {family: DJV, size: 49, anchor: "start", len: 123});
T(WELL, 756, 86, {family: DJV, size: 49, weight: "bold", anchor: "start", len: 394, adjust: "spacing"});

// Horizontes
T("Horizontes", 0, 0, {size: 46, weight: "bold", anchor: "start", len: 205, transform: "translate(130,350) rotate(-90)"});

// CALL / BS
T("CALL", 300, 197, {fill: RED, size: 27, len: 66});
L(176, 198.5, 418, 198.5, RED, 6, "12.5,6.5");
scaleRow(CALL_LABELS, [207, 298, 384], 230, RED, 28, [14, 24, 33]);
T("BS", 300, 320, {size: 28, len: 34});
L(176, 322, 421, 322, "black", 6);
scaleRow(CALL_LABELS, [207, 298, 384], 353, "#000", 28, [14, 24, 33]);

// GR
R(423, 230, 124, 63, "#ffff00");
R(547, 230, 127, 63, "#a52a2a");
T("GR/Baseline", 548, 275, {size: 33, len: 189});
T("GR", 548, 319, {size: 28, len: 40});
L(421, 322, 675, 322, "black", 6);
scaleRow(GR_LABELS, [447, 545, 631], 352, "#000", 28, [16, 64, 45]);

// Depth
T("Reference", 792, 265, {family: DJV, size: 28, weight: "bold", len: 185});
T("(ft)", 792, 298, {family: DJV, size: 28, weight: "bold", len: 56});
T("1:600", 792, 334, {family: DJV, size: 28, weight: "bold", len: 100});

// Vshale
R(911, 230, 265, 31, "url(#vshHdr)");
R(911, 263, 265, 30, "url(#vshHdr)");
L(910, 261, 1176, 261, "black", 4);
T("Vshale", 1041, 257, {size: 28, len: 105});
scaleRow(VSH_FILL_LABELS, [937, 1044, 1147], 290, "#000", 28, [16, 145, 12]);
T("VSH_GR", 1043, 321, {size: 28, len: 130});
L(910, 324, 1176, 324, "black", 5);
scaleRow(VSH_LABELS, [937, 1042, 1147], 354, "#000", 28, [16, 42, 12]);

// Resistivity
const RES_X = [1207, 1311, 1403], RES_LEN = [35, 88, 63];
T("RESD", 1312, 197, {fill: BLUE, size: 26, len: 82});
L(1176, 198.5, 1449, 198.5, BLUE, 6, "32,6.5");
scaleRow(RES_LABELS, RES_X, 228, BLUE, 26, RES_LEN);
T("RESS", 1312, 258, {size: 26, len: 82});
L(1176, 261.5, 1449, 261.5, "black", 5);
scaleRow(RES_LABELS, RES_X, 290, "#000", 26, RES_LEN);
T("RESM", 1312, 320, {fill: RED, size: 26, len: 88});
L(1176, 322.5, 1449, 322.5, RED, 6, "13,6");
scaleRow(RES_LABELS, RES_X, 351, RED, 26, RES_LEN);

// Neutron / Density
T("NPHI", 1587, 197, {fill: BLUE, size: 26, len: 76});
L(1449, 198.5, 1718, 198.5, BLUE, 6);
scaleRow(NPHI_LABELS, [1488, 1584, 1671], 228, BLUE, 26, [51, 82, 67]);
T("RHOB", 1586, 320, {fill: RED, size: 26, len: 95});
L(1449, 322.5, 1718, 322.5, RED, 6, "32,6");
scaleRow(RHOB_LABELS, [1487, 1584, 1677], 351, RED, 26, [51, 82, 51]);

// frame lines
L(36, 13, 1718, 13, "black", 3);
L(47, 13, 47, 354, "black", 3);
L(47, 108, 1718, 108, "black", 3);
[180, 421, 675, 909, 1176, 1449].forEach(x => L(x, 108, x, 354, "black", 3));
hdr.append("rect").attr("x", 36).attr("y", 354).attr("width", 1682).attr("height", 16).attr("fill", "#efefef");
</script>
</body>
</html>
